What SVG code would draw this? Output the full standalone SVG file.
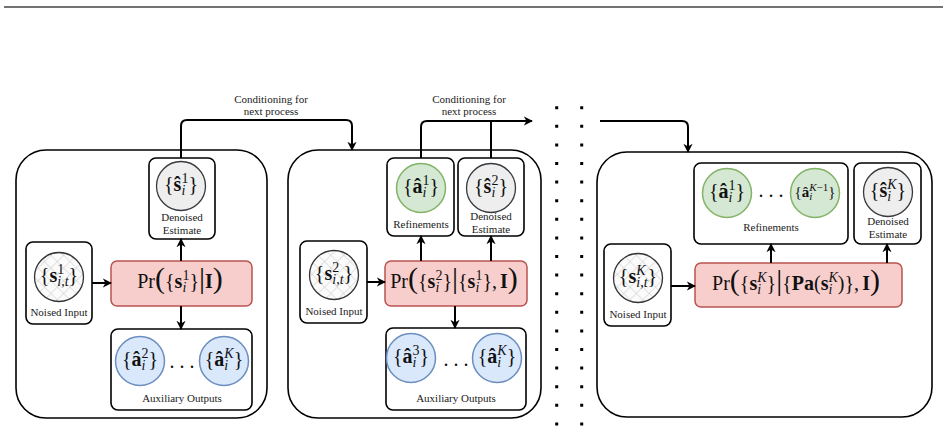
<svg xmlns="http://www.w3.org/2000/svg" width="948" height="432" viewBox="0 0 948 432">
<style>
.outer{fill:#fff;stroke:#000;stroke-width:1.6}
.box{fill:#fff;stroke:#000;stroke-width:1.6}
.pr{fill:#f8cecc;stroke:#b85450;stroke-width:1.5}
.cg{fill:#eeeeee;stroke:#36393d;stroke-width:1.3}
.cn{fill:url(#hatch);stroke:#333;stroke-width:1.3}
.cgr{fill:#d5e8d4;stroke:#82b366;stroke-width:1.5}
.cb{fill:#dae8fc;stroke:#6c8ebf;stroke-width:1.5}
.lbl{font-family:"Liberation Serif",serif;font-size:11px;fill:#222;text-anchor:middle}
.m{font-family:"Liberation Serif",serif;font-size:20px;fill:#111;text-anchor:middle}
.b{font-weight:bold}
.it{font-style:italic}
.s{font-size:14px}
.big{font-size:30px}
.con{fill:none;stroke:#000;stroke-width:2}
.dots{stroke:#000;stroke-width:3;stroke-dasharray:3 15.6}
</style>
<defs>
<pattern id="hatch" width="9" height="9" patternUnits="userSpaceOnUse" patternTransform="rotate(45)">
<rect width="9" height="9" fill="#fbfbfb"/>
<path d="M0,0H9M0,0V9" stroke="#c4c4c4" stroke-width="0.9"/>
</pattern>
<marker id="ah" viewBox="0 0 10 10" refX="9" refY="5" markerWidth="4.6" markerHeight="4.6" orient="auto" markerUnits="strokeWidth">
<path d="M0,0 L10,5 L0,10 L3,5 z" fill="#000"/>
</marker>
</defs>
<line x1="4" y1="7" x2="943" y2="7" stroke="#444" stroke-width="1.5"/>

<!-- Panel 1 -->
<g id="panel1"><rect class="outer" x="16" y="150" width="251" height="268" rx="30"/></g>
<g id="p1-denoised">
<rect class="box" x="149" y="158" width="66" height="81" rx="7"/>
<circle class="cg" cx="181" cy="186" r="24.5"/>
<text class="m" x="181" y="191">{<tspan class="b">ŝ</tspan><tspan class="s it" dy="4">i</tspan><tspan class="s" dx="-3.9" dy="-12">1</tspan><tspan dy="8">}</tspan></text>
<text class="lbl" x="182" y="221">Denoised</text>
<text class="lbl" x="182" y="234">Estimate</text>
</g>
<g id="p1-noised">
<rect class="box" x="26" y="242" width="66" height="82" rx="7"/>
<circle class="cn" cx="59" cy="277" r="24.5"/>
<text class="m" x="59" y="282">{<tspan class="b">s</tspan><tspan class="s" dy="-8">1</tspan><tspan class="s" dx="-7" dy="12"><tspan class="it">i</tspan>,<tspan class="it">t</tspan></tspan><tspan dy="-4">}</tspan></text>
<text class="lbl" x="59" y="316">Noised Input</text>
</g>
<g id="p1-model">
<rect class="pr" x="111" y="261" width="141" height="45" rx="6"/>
<text class="m" x="180" y="288">Pr<tspan class="big">(</tspan>{<tspan class="b">s</tspan><tspan class="s it" dy="4">i</tspan><tspan class="s" dx="-3.9" dy="-12">1</tspan><tspan dy="8">}</tspan><tspan class="big">|</tspan><tspan class="b">I</tspan><tspan class="big">)</tspan></text>
</g>
<g id="p1-aux">
<rect class="box" x="111" y="329" width="141" height="81" rx="7"/>
<circle class="cb" cx="140" cy="361" r="24.5"/>
<circle class="cb" cx="224" cy="361" r="24.5"/>
<text class="m" x="140" y="366">{<tspan class="b">â</tspan><tspan class="s it" dy="4">i</tspan><tspan class="s" dx="-3.9" dy="-12">2</tspan><tspan dy="8">}</tspan></text>
<text class="m" x="224" y="366">{<tspan class="b">â</tspan><tspan class="s it" dy="4">i</tspan><tspan class="s it" dx="-3.9" dy="-12">K</tspan><tspan dy="8">}</tspan></text>
<text class="m" x="182" y="368">. . .</text>
<text class="lbl" x="182" y="402">Auxiliary Outputs</text>
</g>

<!-- Panel 2 -->
<g id="panel2"><rect class="outer" x="288" y="150" width="253" height="268" rx="30"/></g>
<g id="p2-refine">
<rect class="box" x="387" y="158" width="67" height="78" rx="7"/>
<circle class="cgr" cx="421" cy="188" r="24.5"/>
<text class="m" x="421" y="193">{<tspan class="b">â</tspan><tspan class="s it" dy="4">i</tspan><tspan class="s" dx="-3.9" dy="-12">1</tspan><tspan dy="8">}</tspan></text>
<text class="lbl" x="421" y="227.5">Refinements</text>
</g>
<g id="p2-denoised">
<rect class="box" x="458" y="158" width="66" height="78" rx="7"/>
<circle class="cg" cx="491" cy="188" r="24.5"/>
<text class="m" x="491" y="193">{<tspan class="b">ŝ</tspan><tspan class="s it" dy="4">i</tspan><tspan class="s" dx="-3.9" dy="-12">2</tspan><tspan dy="8">}</tspan></text>
<text class="lbl" x="491" y="220">Denoised</text>
<text class="lbl" x="491" y="232.5">Estimate</text>
</g>
<g id="p2-noised">
<rect class="box" x="300" y="241" width="67" height="82" rx="7"/>
<circle class="cn" cx="334" cy="275" r="24.5"/>
<text class="m" x="334" y="280">{<tspan class="b">s</tspan><tspan class="s" dy="-8">2</tspan><tspan class="s" dx="-7" dy="12"><tspan class="it">i</tspan>,<tspan class="it">t</tspan></tspan><tspan dy="-4">}</tspan></text>
<text class="lbl" x="334" y="315">Noised Input</text>
</g>
<g id="p2-model">
<rect class="pr" x="385" y="261" width="142" height="45" rx="6"/>
<text class="m" x="454" y="288">Pr<tspan class="big">(</tspan>{<tspan class="b">s</tspan><tspan class="s it" dy="4">i</tspan><tspan class="s" dx="-3.9" dy="-12">2</tspan><tspan dy="8">}</tspan><tspan class="big">|</tspan>{<tspan class="b">s</tspan><tspan class="s it" dy="4">i</tspan><tspan class="s" dx="-3.9" dy="-12">1</tspan><tspan dy="8">},</tspan><tspan class="b" dx="3">I</tspan><tspan class="big">)</tspan></text>
</g>
<g id="p2-aux">
<rect class="box" x="386" y="328" width="140" height="82" rx="7"/>
<circle class="cb" cx="411" cy="358" r="24.5"/>
<circle class="cb" cx="497" cy="358" r="24.5"/>
<text class="m" x="411" y="363">{<tspan class="b">â</tspan><tspan class="s it" dy="4">i</tspan><tspan class="s" dx="-3.9" dy="-12">3</tspan><tspan dy="8">}</tspan></text>
<text class="m" x="497" y="363">{<tspan class="b">â</tspan><tspan class="s it" dy="4">i</tspan><tspan class="s it" dx="-3.9" dy="-12">K</tspan><tspan dy="8">}</tspan></text>
<text class="m" x="456" y="366">. . .</text>
<text class="lbl" x="456" y="402">Auxiliary Outputs</text>
</g>

<!-- Panel 3 -->
<g id="panel3"><rect class="outer" x="597" y="152" width="335" height="265" rx="30"/></g>
<g id="p3-refine">
<rect class="box" x="694" y="163" width="154" height="81" rx="7"/>
<circle class="cgr" cx="727" cy="193" r="24.5"/>
<circle class="cgr" cx="815" cy="193" r="24.5"/>
<text class="m" x="727" y="198">{<tspan class="b">â</tspan><tspan class="s it" dy="4">i</tspan><tspan class="s" dx="-3.9" dy="-12">1</tspan><tspan dy="8">}</tspan></text>
<text class="m" x="815" y="197" style="font-size:15px">{<tspan class="b">â</tspan><tspan class="it" style="font-size:11px" dy="3">i</tspan><tspan style="font-size:11px" dx="-3.1" dy="-9"><tspan class="it">K</tspan>−1</tspan><tspan dy="6">}</tspan></text>
<text class="m" x="771" y="197">. . .</text>
<text class="lbl" x="771" y="231">Refinements</text>
</g>
<g id="p3-denoised">
<rect class="box" x="854" y="163" width="67" height="81" rx="7"/>
<circle class="cg" cx="888" cy="192" r="24.5"/>
<text class="m" x="888" y="197">{<tspan class="b">ŝ</tspan><tspan class="s it" dy="4">i</tspan><tspan class="s it" dx="-3.9" dy="-12">K</tspan><tspan dy="8">}</tspan></text>
<text class="lbl" x="888" y="225">Denoised</text>
<text class="lbl" x="888" y="238">Estimate</text>
</g>
<g id="p3-noised">
<rect class="box" x="604" y="244" width="67" height="82" rx="7"/>
<circle class="cn" cx="638" cy="278" r="24.5"/>
<text class="m" x="638" y="283">{<tspan class="b">s</tspan><tspan class="s it" dy="-8">K</tspan><tspan class="s" dx="-9.3" dy="12"><tspan class="it">i</tspan>,<tspan class="it">t</tspan></tspan><tspan dy="-4">}</tspan></text>
<text class="lbl" x="638" y="318">Noised Input</text>
</g>
<g id="p3-model">
<rect class="pr" x="695" y="263" width="207" height="44" rx="6"/>
<text class="m" x="796" y="290">Pr<tspan class="big">(</tspan>{<tspan class="b">s</tspan><tspan class="s it" dy="4">i</tspan><tspan class="s it" dx="-3.9" dy="-12">K</tspan><tspan dy="8">}</tspan><tspan class="big">|</tspan>{<tspan class="b">Pa</tspan>(<tspan class="b">s</tspan><tspan class="s it" dy="4">i</tspan><tspan class="s it" dx="-3.9" dy="-12">K</tspan><tspan dy="8">)},</tspan><tspan class="b" dx="3">I</tspan><tspan class="big">)</tspan></text>
</g>

<!-- Connectors -->
<g id="connectors">
<path class="con" d="M92,283 H111" marker-end="url(#ah)"/>
<path class="con" d="M181,261 V239" marker-end="url(#ah)"/>
<path class="con" d="M181,306 V329" marker-end="url(#ah)"/>
<path class="con" d="M181,158 V126 Q181,120 187,120 H346 Q352,120 352,126 V150" marker-end="url(#ah)"/>
<path class="con" d="M367,282 H385" marker-end="url(#ah)"/>
<path class="con" d="M421,261 V236" marker-end="url(#ah)"/>
<path class="con" d="M491,261 V236" marker-end="url(#ah)"/>
<path class="con" d="M455,306 V328" marker-end="url(#ah)"/>
<path class="con" d="M421,158 V127 Q421,121 427,121 H532" marker-end="url(#ah)"/>
<path class="con" d="M491,158 V121"/>
<path class="con" d="M600,121 H682 Q688,121 688,127 V152" marker-end="url(#ah)"/>
<path class="con" d="M671,286 H695" marker-end="url(#ah)"/>
<path class="con" d="M771,263 V244" marker-end="url(#ah)"/>
<path class="con" d="M887,263 V244" marker-end="url(#ah)"/>
<line class="dots" x1="556.7" y1="106.2" x2="556.7" y2="426"/>
<line class="dots" x1="581.7" y1="106.2" x2="581.7" y2="426"/>
</g>
<g id="labels">
<text class="lbl" x="271" y="103">Conditioning for</text>
<text class="lbl" x="271" y="115">next process</text>
<text class="lbl" x="469" y="103">Conditioning for</text>
<text class="lbl" x="469" y="115">next process</text>
</g>
</svg>
